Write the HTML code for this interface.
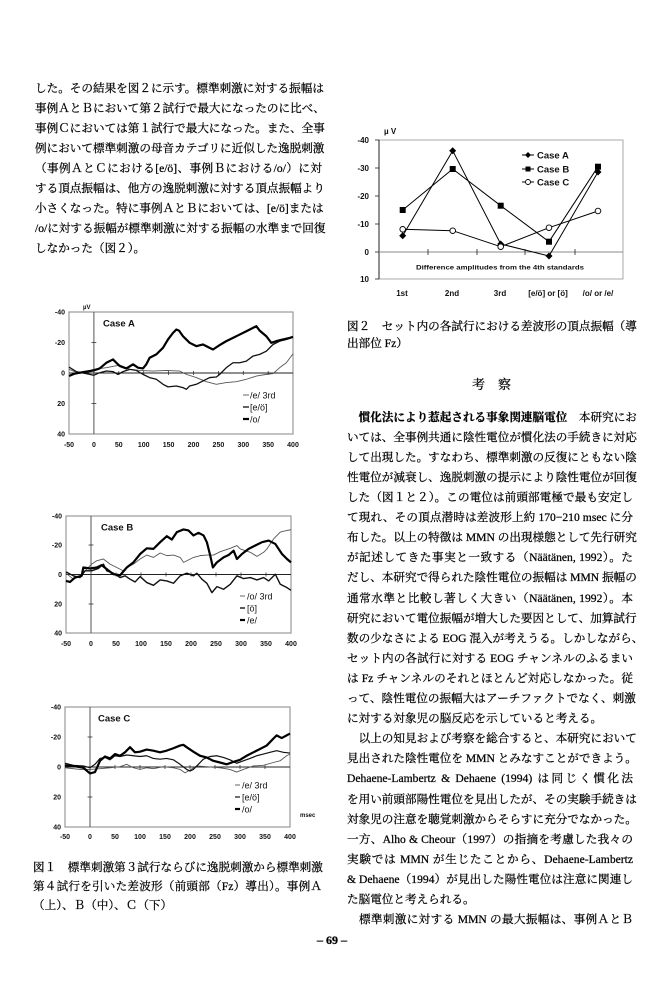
<!DOCTYPE html>
<html><head><meta charset="utf-8">
<style>
body{margin:0;background:#fff}
#p{position:relative;width:668px;height:1008px;overflow:hidden;background:#fff}
.t{position:absolute;height:20px;line-height:20px;font-family:"Liberation Serif","Noto Serif CJK SC",serif;font-size:11.6px;color:#000;white-space:nowrap;text-align:justify;text-align-last:justify;-webkit-text-stroke:0.25px #000}
.L{left:35px;width:287px}
.R{left:347px;width:286px}
.C{left:33px;width:289px}
.n{text-align-last:left}
b{font-weight:bold}
svg{position:absolute;left:0;top:0}
svg text{font-family:"Liberation Sans",Arial,sans-serif;fill:#111}
.ax{font-size:7px;font-weight:bold}
.lg{font-size:9px}
.cs{font-size:9.5px;font-weight:bold}
polyline{fill:none;stroke-linejoin:round}
</style></head><body><div id="p">

<svg width="668" height="1008" viewBox="0 0 668 1008">
<!-- ===== Figure 2 (top right) ===== -->
<g>
<rect x="379" y="140" width="244" height="139" fill="none" stroke="#aaa" stroke-width="1"/>
<line x1="379" y1="140" x2="379" y2="279" stroke="#222" stroke-width="1"/>
<line x1="379" y1="252" x2="623" y2="252" stroke="#888" stroke-width="0.9"/>
<g stroke="#222" stroke-width="0.8">
<line x1="375" y1="140" x2="379" y2="140"/><line x1="375" y1="168" x2="379" y2="168"/>
<line x1="375" y1="196" x2="379" y2="196"/><line x1="375" y1="224" x2="379" y2="224"/>
<line x1="375" y1="252" x2="379" y2="252"/><line x1="375" y1="279" x2="379" y2="279"/>
<line x1="428" y1="249" x2="428" y2="255"/><line x1="477" y1="249" x2="477" y2="255"/>
<line x1="525" y1="249" x2="525" y2="255"/><line x1="575" y1="249" x2="575" y2="255"/>
</g>
<g font-size="8" font-weight="bold" text-anchor="end">
<text x="369" y="143">-40</text><text x="369" y="171">-30</text><text x="369" y="199">-20</text>
<text x="369" y="227">-10</text><text x="369" y="255">0</text><text x="369" y="282">10</text>
</g>
<text x="384" y="134" font-size="8" font-weight="bold">µ V</text>
<g font-size="8" font-weight="bold" text-anchor="middle">
<text x="402" y="296">1st</text><text x="452" y="296">2nd</text><text x="500" y="296">3rd</text>
<text x="548" y="296">[e/ö] or [ö]</text><text x="598" y="296">/o/ or /e/</text>
</g>
<text x="500" y="269.5" font-size="6.8" font-weight="bold" text-anchor="middle" textLength="168" lengthAdjust="spacingAndGlyphs">Difference amplitudes from the 4th standards</text>
<polyline points="402.7,235.7 452.7,150.7 500.7,244 549,256 598,172" stroke="#000" stroke-width="1"/>
<polyline points="402.7,210 452.7,169 500.7,205.7 549,241.7 598,166.7" stroke="#000" stroke-width="1"/>
<polyline points="402.7,229.3 452.7,230.7 500.7,246.7 549,227.7 598,211" stroke="#000" stroke-width="1"/>
<g fill="#000">
<path d="M402.7,232.2 L406.2,235.7 402.7,239.2 399.2,235.7Z"/>
<path d="M452.7,147.2 L456.2,150.7 452.7,154.2 449.2,150.7Z"/>
<path d="M500.7,240.5 L504.2,244 500.7,247.5 497.2,244Z"/>
<path d="M549,252.5 L552.5,256 549,259.5 545.5,256Z"/>
<path d="M598,168.5 L601.5,172 598,175.5 594.5,172Z"/>
<rect x="399.7" y="207" width="6" height="6"/><rect x="449.7" y="166" width="6" height="6"/>
<rect x="497.7" y="202.7" width="6" height="6"/><rect x="546" y="238.7" width="6" height="6"/>
<rect x="595" y="163.7" width="6" height="6"/>
</g>
<g fill="#fff" stroke="#000" stroke-width="0.9">
<circle cx="402.7" cy="229.3" r="2.8"/><circle cx="452.7" cy="230.7" r="2.8"/>
<circle cx="500.7" cy="246.7" r="2.8"/><circle cx="549" cy="227.7" r="2.8"/><circle cx="598" cy="211" r="2.8"/>
</g>
<g stroke="#000" stroke-width="1">
<line x1="522" y1="155" x2="534" y2="155"/><line x1="522" y1="169" x2="534" y2="169"/><line x1="522" y1="182" x2="534" y2="182"/>
</g>
<path d="M528,152 L531,155 528,158 525,155Z" fill="#000"/>
<rect x="525.5" y="166.5" width="5" height="5" fill="#000"/>
<circle cx="528" cy="182" r="2.5" fill="#fff" stroke="#000" stroke-width="0.9"/>
<g font-size="9.5" font-weight="bold">
<text x="537" y="158.5">Case A</text><text x="537" y="172.5">Case B</text><text x="537" y="185.5">Case C</text>
</g>
</g>

<!-- ===== Case A ===== -->
<g>
<rect x="69" y="312" width="224" height="122" fill="none" stroke="#999" stroke-width="1.2"/>
<line x1="93.9" y1="312" x2="93.9" y2="434" stroke="#555" stroke-width="1"/>
<line x1="69" y1="373" x2="293" y2="373" stroke="#222" stroke-width="0.9"/>
<g stroke="#333" stroke-width="0.8">
<line x1="91.5" y1="342.5" x2="96.3" y2="342.5"/><line x1="91.5" y1="403.5" x2="96.3" y2="403.5"/>
<line x1="118.8" y1="371" x2="118.8" y2="375"/><line x1="143.7" y1="371" x2="143.7" y2="375"/><line x1="168.6" y1="371" x2="168.6" y2="375"/><line x1="193.5" y1="371" x2="193.5" y2="375"/><line x1="218.4" y1="371" x2="218.4" y2="375"/><line x1="243.3" y1="371" x2="243.3" y2="375"/><line x1="268.2" y1="371" x2="268.2" y2="375"/>
</g>
<g class="ax" text-anchor="end">
<text x="65" y="314.5">-40</text><text x="65" y="345">-20</text><text x="65" y="375.5">0</text><text x="65" y="406">20</text><text x="65" y="436.5">40</text>
</g>
<g class="ax" text-anchor="middle">
<text x="69" y="447">-50</text><text x="93.9" y="447">0</text><text x="118.8" y="447">50</text><text x="143.7" y="447">100</text><text x="168.6" y="447">150</text><text x="193.5" y="447">200</text><text x="218.4" y="447">250</text><text x="243.3" y="447">300</text><text x="268.2" y="447">350</text><text x="293" y="447">400</text>
</g>
<text x="83" y="309" font-size="6" font-weight="bold">µV</text>
<text x="103" y="326.5" class="cs">Case A</text>
<g transform="translate(93.9,373) scale(0.4978,1.525)">
<polyline vector-effect="non-scaling-stroke" stroke="#555" stroke-width="0.9" points="-50,-2.4 -28.6,0.4 -0.5,-2.4 25,-3.5 51.8,-5.2 71.9,-2.4 92,-1.7 118.7,-1.3 145.5,-1.7 172.3,-1.3 185.7,0.9 205.8,3 225.9,5.7 246,7.4 266,6.3 286.1,5.7 306.2,4.1 326.3,2 346.4,0.9 359.8,0.4 373.2,-3.5 386.6,-6.7 400,-12.6"/>
<polyline vector-effect="non-scaling-stroke" stroke="#111" stroke-width="1.3" points="-50,-3.9 -35.3,-0.9 -21.9,0 -8.5,0.9 -0.5,1.5 11.6,-0.2 25,-1.3 38.4,-0.9 48.4,0.9 58.5,-0.9 71.9,-2.4 85.3,-1.7 98.6,0.9 112,3 125.4,4.1 138.8,7.4 148.9,9.1 165.6,8.5 179,9.6 185.7,10.7 192.4,8.5 205.8,7.4 219.2,5.2 232.6,3 246,2.6 252.7,0.9 266,-3.5 279.4,-6.7 292.8,-6.7 306.2,-7.8 319.6,-11.1 333,-12.2 346.4,-14.3 359.8,-18.7 373.2,-20.9 386.6,-22 400,-23.5"/>
<polyline vector-effect="non-scaling-stroke" stroke="#000" stroke-width="2.2" points="-50,1.96 -38.6,0.43 -28.6,-0.2 -15.2,-0.9 -0.5,-1.7 11.6,-3 25,-6.7 38.4,-8.9 45,-6.7 51.8,-4.6 65.2,-3 78.6,-5.7 88.6,-3.5 98.6,-3 105.3,-5.7 112,-10 125.4,-12.2 138.8,-16.5 148.9,-22 158.9,-26.3 165.6,-28.5 171,-27.8 179,-24.1 192.4,-19.8 205.8,-17.6 219.2,-18.7 232.6,-16.5 239.3,-15.4 252.7,-18.3 266,-20.9 279.4,-23 292.8,-25.2 306.2,-27.4 319.6,-29.6 326.3,-30.7 333,-27.8 346.4,-24.1 356.4,-19.8 366.5,-20.9 379.9,-22 393.3,-23 400,-23.7"/>
</g>
<line x1="243" y1="395" x2="249" y2="395" stroke="#555" stroke-width="0.9"/>
<line x1="243" y1="407" x2="249" y2="407" stroke="#111" stroke-width="1.3"/>
<line x1="243" y1="419" x2="249" y2="419" stroke="#000" stroke-width="2.2"/>
<g class="lg"><text x="250" y="398.5">/e/ 3rd</text><text x="250" y="410.5">[e/ö]</text><text x="250" y="422.5">/o/</text></g>
</g>

<!-- ===== Case B ===== -->
<g>
<rect x="66" y="516" width="225" height="117" fill="none" stroke="#999" stroke-width="1.2"/>
<line x1="91" y1="516" x2="91" y2="633" stroke="#555" stroke-width="1"/>
<line x1="66" y1="574.5" x2="291" y2="574.5" stroke="#222" stroke-width="0.9"/>
<g stroke="#333" stroke-width="0.8">
<line x1="88.6" y1="545" x2="93.4" y2="545"/><line x1="88.6" y1="604" x2="93.4" y2="604"/>
<line x1="116" y1="572.5" x2="116" y2="576.5"/><line x1="141" y1="572.5" x2="141" y2="576.5"/><line x1="166" y1="572.5" x2="166" y2="576.5"/><line x1="191" y1="572.5" x2="191" y2="576.5"/><line x1="216" y1="572.5" x2="216" y2="576.5"/><line x1="241" y1="572.5" x2="241" y2="576.5"/><line x1="266" y1="572.5" x2="266" y2="576.5"/>
</g>
<g class="ax" text-anchor="end">
<text x="62" y="518.5">-40</text><text x="62" y="547.5">-20</text><text x="62" y="577">0</text><text x="62" y="606.5">20</text><text x="62" y="635.5">40</text>
</g>
<g class="ax" text-anchor="middle">
<text x="66" y="646">-50</text><text x="91" y="646">0</text><text x="116" y="646">50</text><text x="141" y="646">100</text><text x="166" y="646">150</text><text x="191" y="646">200</text><text x="216" y="646">250</text><text x="241" y="646">300</text><text x="266" y="646">350</text><text x="291" y="646">400</text>
</g>
<text x="101" y="530.5" class="cs">Case B</text>
<g transform="translate(91,574.5) scale(0.5,1.4625)">
<polyline vector-effect="non-scaling-stroke" stroke="#555" stroke-width="0.9" points="-50,-0.9 -35.3,3.2 -22,0.9 -8.6,-3.7 1.4,-7.1 11.4,-9.4 24.8,-10.6 38.1,-7.1 51.5,-4.8 64.8,-2.5 71.5,-4.8 84.9,-7.1 98.2,-10.6 111.6,-13.3 124.9,-11.7 138.3,-14.7 151.6,-12.9 165,-13.3 178.4,-11.7 185,-8.3 191.7,-9.4 205,-11.7 218.4,-12.9 231.8,-13.3 245.1,-13.3 258.5,-15.6 278.5,-17.9 291.9,-19.8 298.5,-17.5 318.6,-15.2 331.9,-12.4 345.3,-15.2 352,-17.5 365.3,-24.4 378.6,-29 392,-30.1 400,-30.6"/>
<polyline vector-effect="non-scaling-stroke" stroke="#111" stroke-width="1.4" points="-50,-1.8 -35.3,0.9 -22,2.1 -11.9,-2.5 1.4,-2.5 14.8,-4.1 24.8,-7.1 31.5,-2.5 44.8,-0.9 58.2,2.1 68.2,0.9 78.2,3.2 88.2,5.1 98.2,1.4 111.6,5.5 124.9,7.4 138.3,3.7 151.6,4.4 165,6 178.4,0.9 191.7,-0.9 205,0.9 211.7,-0.9 221.8,3.2 231.8,6 241.8,12.4 251.8,8.3 265.1,10.1 278.5,6.7 291.9,0.9 305.2,2.8 318.6,2.1 331.9,3.7 345.3,2.1 355.3,4.4 368.6,-0.2 378.6,6.7 392,9 400,10.8"/>
<polyline vector-effect="non-scaling-stroke" stroke="#000" stroke-width="2.2" points="-50,4.4 -42,5.1 -32,2.1 -18.6,0.9 -15.3,-4.8 -1.9,-4.1 11.4,-4.8 21.4,-6.4 31.5,-3.7 44.8,-0.2 58.2,0.5 71.5,-4.8 84.9,-8.3 98.2,-14 111.6,-17.9 124.9,-17.5 138.3,-22.1 151.6,-26.2 161.7,-23.9 171.7,-29 185,-30.8 195,-30.1 205,-26.7 215,-28.5 225.1,-26.7 231.8,-22 238.5,-12.9 243.8,-4.8 251.8,-8.3 265.1,-11.7 275.2,-13.3 285.2,-16.3 291.9,-10.6 301.9,-14 315.2,-17.5 328.6,-19.8 342,-22.1 355.3,-23.2 368.6,-20.9 382,-14 392,-10.6 400,-8.3"/>
</g>
<line x1="240" y1="596" x2="245" y2="596" stroke="#555" stroke-width="0.9"/>
<line x1="240" y1="608" x2="245" y2="608" stroke="#111" stroke-width="1.4"/>
<line x1="240" y1="620" x2="245" y2="620" stroke="#000" stroke-width="2.2"/>
<g class="lg"><text x="247" y="599.5">/o/ 3rd</text><text x="247" y="611.5">[ö]</text><text x="247" y="623.5">/e/</text></g>
</g>

<!-- ===== Case C ===== -->
<g>
<rect x="65" y="707" width="225" height="120" fill="none" stroke="#999" stroke-width="1.2"/>
<line x1="90" y1="707" x2="90" y2="827" stroke="#555" stroke-width="1"/>
<line x1="65" y1="767" x2="290" y2="767" stroke="#222" stroke-width="0.9"/>
<g stroke="#333" stroke-width="0.8">
<line x1="87.6" y1="737" x2="92.4" y2="737"/><line x1="87.6" y1="797" x2="92.4" y2="797"/>
<line x1="115" y1="765" x2="115" y2="769"/><line x1="140" y1="765" x2="140" y2="769"/><line x1="165" y1="765" x2="165" y2="769"/><line x1="190" y1="765" x2="190" y2="769"/><line x1="215" y1="765" x2="215" y2="769"/><line x1="240" y1="765" x2="240" y2="769"/><line x1="265" y1="765" x2="265" y2="769"/>
</g>
<g class="ax" text-anchor="end">
<text x="61" y="709.5">-40</text><text x="61" y="739.5">-20</text><text x="61" y="769.5">0</text><text x="61" y="799.5">20</text><text x="61" y="829.5">40</text>
</g>
<g class="ax" text-anchor="middle">
<text x="65" y="839">-50</text><text x="90" y="839">0</text><text x="115" y="839">50</text><text x="140" y="839">100</text><text x="165" y="839">150</text><text x="190" y="839">200</text><text x="215" y="839">250</text><text x="240" y="839">300</text><text x="265" y="839">350</text><text x="290" y="839">400</text>
</g>
<text x="98" y="721.5" class="cs">Case C</text>
<text x="300" y="817" font-size="6" font-weight="bold">msec</text>
<g transform="translate(90,767) scale(0.5,1.5)">
<polyline vector-effect="non-scaling-stroke" stroke="#555" stroke-width="0.9" points="-50,0.5 -20,1.6 0,1.6 20,1.1 40,0.5 60,-0.2 73.3,-1.8 86.7,0.5 100,1.6 113.3,0.5 126.7,1.1 146.7,-0.2 166.7,0.5 180,1.6 190,3.9 200,2 213.3,-0.7 233.3,-0.2 260,0.5 280,1.6 293.3,3.4 306.7,1.6 326.7,-0.7 346.7,-1.1 366.7,-3 380,-4.1 393.3,-7.5 400,-8.6"/>
<polyline vector-effect="non-scaling-stroke" stroke="#111" stroke-width="1.2" points="-50,-2.5 -33.3,-1.1 -13.3,-0.7 0,0.5 10,-1.8 20,-5.7 30,-6.4 40,-4.8 50,-7.5 60,-7 73.3,-8 86.7,-7.5 100,-7 113.3,-7.5 126.7,-5.7 140,-5.2 153.3,-5.7 166.7,-4.8 180,-1.8 193.3,1.6 200,2.7 206.7,1.6 216.7,-1.8 226.7,-5.2 240,-7 253.3,-7.5 266.7,-6.4 280,-4.8 293.3,-2.5 306.7,-4.1 320,-5.7 333.3,-7.5 346.7,-8.6 360,-9.8 373.3,-10.9 386.7,-9.8 400,-9.3"/>
<polyline vector-effect="non-scaling-stroke" stroke="#000" stroke-width="2.2" points="-50,-1.1 -33.3,-0.7 -13.3,0.5 0,4.3 10,3.4 20,-4.1 30,-7 40,-5.7 50,-8.6 60,-7.5 70,-9.8 80,-13.2 90,-9.8 100,-10.2 113.3,-11.6 126.7,-10.9 140,-9.8 153.3,-10.9 166.7,-12.5 180,-14.3 186.7,-14.8 193.3,-13.2 206.7,-10.2 220,-7.5 233,-6.4 246.7,-4.1 260,-3 273.3,-1.8 286.7,-3.4 300,-4.8 313.3,-7.5 326.7,-9.8 340,-12 353.3,-14.3 366.7,-18.9 373.3,-21.1 383.3,-19.3 393.3,-21.1 400,-22.3"/>
</g>
<line x1="235" y1="785" x2="240" y2="785" stroke="#555" stroke-width="0.9"/>
<line x1="235" y1="797" x2="240" y2="797" stroke="#111" stroke-width="1.2"/>
<line x1="235" y1="809" x2="240" y2="809" stroke="#000" stroke-width="2.2"/>
<g class="lg"><text x="242" y="788.5">/e/ 3rd</text><text x="242" y="800.5">[e/ö]</text><text x="242" y="812.5">/o/</text></g>
</g>
</svg>

<!-- ===== Left column text ===== -->
<div class="t L" style="top:79px">した。その結果を図２に示す。標準刺激に対する振幅は</div>
<div class="t L" style="top:99px">事例ＡとＢにおいて第２試行で最大になったのに比べ、</div>
<div class="t L" style="top:119px">事例Ｃにおいては第１試行で最大になった。また、全事</div>
<div class="t L" style="top:139px">例において標準刺激の母音カテゴリに近似した逸脱刺激</div>
<div class="t L" style="top:159px">（事例ＡとＣにおける[e/ö]、事例Ｂにおける/o/）に対</div>
<div class="t L" style="top:179px">する頂点振幅は、他方の逸脱刺激に対する頂点振幅より</div>
<div class="t L" style="top:199px">小さくなった。特に事例ＡとＢにおいては、[e/ö]または</div>
<div class="t L" style="top:219px">/o/に対する振幅が標準刺激に対する振幅の水準まで回復</div>
<div class="t L n" style="top:239px">しなかった（図２）。</div>

<!-- Figure 2 caption -->
<div class="t R" style="top:317px">図２　セット内の各試行における差波形の頂点振幅（導</div>
<div class="t R n" style="top:334px">出部位 Fz）</div>

<!-- Heading -->
<div class="t" style="top:375px;left:472px;width:36px;font-size:13px">考　察</div>

<!-- ===== Right column text ===== -->
<div class="t R" style="top:408px">　<b>慣化法により惹起される事象関連脳電位</b>　本研究にお</div>
<div class="t R" style="top:428px">いては、全事例共通に陰性電位が慣化法の手続きに対応</div>
<div class="t R" style="top:448px">して出現した。すなわち、標準刺激の反復にともない陰</div>
<div class="t R" style="top:468px">性電位が減衰し、逸脱刺激の提示により陰性電位が回復</div>
<div class="t R" style="top:488px">した（図１と２）。この電位は前頭部電極で最も安定し</div>
<div class="t R" style="top:508px">て現れ、その頂点潜時は差波形上約 170−210 msec に分</div>
<div class="t R" style="top:528px">布した。以上の特徴は MMN の出現様態として先行研究</div>
<div class="t R" style="top:548px">が記述してきた事実と一致する（Näätänen, 1992）。た</div>
<div class="t R" style="top:568px">だし、本研究で得られた陰性電位の振幅は MMN 振幅の</div>
<div class="t R" style="top:589px">通常水準と比較し著しく大きい（Näätänen, 1992）。本</div>
<div class="t R" style="top:609px">研究において電位振幅が増大した要因として、加算試行</div>
<div class="t R" style="top:629px">数の少なさによる EOG 混入が考えうる。しかしながら、</div>
<div class="t R" style="top:649px">セット内の各試行に対する EOG チャンネルのふるまい</div>
<div class="t R" style="top:669px">は Fz チャンネルのそれとほとんど対応しなかった。従</div>
<div class="t R" style="top:689px">って、陰性電位の振幅大はアーチファクトでなく、刺激</div>
<div class="t R n" style="top:709px">に対する対象児の脳反応を示していると考える。</div>
<div class="t R" style="top:729px">　以上の知見および考察を総合すると、本研究において</div>
<div class="t R" style="top:749px">見出された陰性電位を MMN とみなすことができよう。</div>
<div class="t R" style="top:769px">Dehaene-Lambertz &amp; Dehaene (1994) は同じく慣化法</div>
<div class="t R" style="top:790px">を用い前頭部陽性電位を見出したが、その実験手続きは</div>
<div class="t R" style="top:810px">対象児の注意を聴覚刺激からそらすに充分でなかった。</div>
<div class="t R" style="top:830px">一方、Alho &amp; Cheour（1997）の指摘を考慮した我々の</div>
<div class="t R" style="top:850px">実験では MMN が生じたことから、Dehaene-Lambertz</div>
<div class="t R" style="top:870px">&amp; Dehaene（1994）が見出した陽性電位は注意に関連し</div>
<div class="t R n" style="top:890px">た脳電位と考えられる。</div>
<div class="t R" style="top:910px">　標準刺激に対する MMN の最大振幅は、事例ＡとＢ</div>

<!-- Figure 1 caption -->
<div class="t C" style="top:858px">図１　標準刺激第３試行ならびに逸脱刺激から標準刺激</div>
<div class="t C" style="top:877px">第４試行を引いた差波形（前頭部（Fz）導出）。事例Ａ</div>
<div class="t C n" style="top:896px">（上）、Ｂ（中）、Ｃ（下）</div>

<!-- page number -->
<div class="t n" style="top:930px;left:302px;width:60px;text-align:center;text-align-last:center;font-size:12px;font-weight:bold">– 69 –</div>

</div></body></html>
